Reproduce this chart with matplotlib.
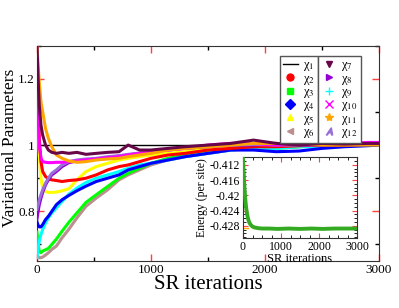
import matplotlib
matplotlib.use("Agg")
import matplotlib.pyplot as plt
from matplotlib.lines import Line2D
from matplotlib.ticker import MultipleLocator

plt.rcParams['font.family'] = ['Liberation Serif', 'DejaVu Serif']
plt.rcParams['mathtext.fontset'] = 'stix'

# ---------------- data ----------------
iters = [0, 10, 20, 35, 50, 75, 100, 130, 170, 220, 280, 350, 430, 520, 620,
         720, 800, 900, 1000, 1150, 1300, 1500, 1700, 1900, 2100, 2300, 2500,
         2700, 2900, 3000]

chi1 = [1.0] * len(iters)
chi2 = [1.25, 1.12, 1.02, 0.95, 0.92, 0.905, 0.898, 0.895, 0.893, 0.89, 0.893,
        0.895, 0.90, 0.91, 0.925, 0.935, 0.94, 0.95, 0.96, 0.97, 0.975, 0.985,
        0.99, 0.995, 0.995, 0.998, 1.0, 1.0, 1.002, 1.003]
chi3 = [0.737, 0.70, 0.68, 0.675, 0.68, 0.684, 0.688, 0.70, 0.716, 0.74, 0.767,
        0.795, 0.827, 0.85, 0.875, 0.90, 0.915, 0.93, 0.945, 0.96, 0.97, 0.98,
        0.99, 0.995, 0.99, 0.995, 1.0, 1.0, 1.0, 1.002]
chi4 = [0.768, 0.758, 0.753, 0.753, 0.76, 0.775, 0.785, 0.80, 0.82, 0.835, 0.848,
        0.862, 0.876, 0.89, 0.90, 0.91, 0.925, 0.935, 0.945, 0.955, 0.965, 0.975,
        0.985, 0.985, 0.98, 0.982, 0.99, 0.995, 0.998, 1.0]
chi5 = [1.3, 1.1, 0.97, 0.9, 0.87, 0.86, 0.857, 0.857, 0.858, 0.862, 0.868,
        0.895, 0.92, 0.935, 0.945, 0.955, 0.96, 0.965, 0.97, 0.975, 0.98, 0.99,
        0.995, 1.0, 1.0, 0.998, 1.002, 1.005, 1.003, 1.003]
chi6 = [0.665, 0.66, 0.66, 0.66, 0.662, 0.668, 0.675, 0.685, 0.695, 0.72, 0.746,
        0.78, 0.815, 0.84, 0.865, 0.895, 0.91, 0.925, 0.94, 0.955, 0.965, 0.975,
        0.985, 0.99, 0.992, 0.995, 0.998, 1.0, 1.0, 1.0]
chi7 = [1.3, 1.2, 1.12, 1.06, 1.03, 1.0, 0.985, 0.978, 0.975, 0.978, 0.975,
        0.978, 0.972, 0.975, 0.978, 0.98, 1.0, 0.985, 0.985, 0.99, 0.995, 1.0,
        1.005, 1.015, 1.005, 1.0, 1.005, 1.003, 1.005, 1.005]
chi8 = [0.777, 0.80, 0.82, 0.84, 0.857, 0.88, 0.895, 0.91, 0.92, 0.935, 0.947,
        0.952, 0.955, 0.958, 0.962, 0.967, 0.97, 0.975, 0.98, 0.985, 0.99, 0.995,
        1.0, 1.0, 1.005, 1.0, 1.0, 1.002, 1.003, 1.003]
chi9 = [0.66, 0.69, 0.71, 0.73, 0.745, 0.765, 0.78, 0.795, 0.81, 0.83, 0.852,
        0.87, 0.887, 0.90, 0.91, 0.92, 0.93, 0.94, 0.945, 0.955, 0.965, 0.975,
        0.985, 0.99, 0.99, 0.995, 0.995, 0.998, 1.0, 1.0]
chi10 = [1.3, 1.1, 1.0, 0.96, 0.95, 0.948, 0.947, 0.947, 0.948, 0.948, 0.95,
         0.952, 0.955, 0.958, 0.962, 0.965, 0.97, 0.975, 0.98, 0.985, 0.99, 1.0,
         1.005, 1.005, 1.0, 1.003, 1.005, 1.005, 1.008, 1.008]
chi11 = [1.3, 1.24, 1.19, 1.13, 1.10, 1.05, 1.02, 0.995, 0.97, 0.96, 0.952,
         0.948, 0.95, 0.955, 0.958, 0.96, 0.965, 0.97, 0.975, 0.985, 0.99, 0.995,
         1.0, 1.005, 1.005, 1.003, 1.0, 1.0, 1.0, 1.0]
chi12 = [0.806, 0.82, 0.835, 0.85, 0.865, 0.885, 0.9, 0.915, 0.925, 0.94, 0.95,
         0.955, 0.958, 0.96, 0.965, 0.968, 0.972, 0.976, 0.982, 0.987, 0.992,
         0.996, 1.0, 1.002, 1.0, 1.0, 1.002, 1.003, 1.003, 1.003]

series = [chi1, chi2, chi3, chi4, chi5, chi6, chi7, chi8, chi9, chi10, chi11, chi12]
labels = ['χ$_{%d}$' % i for i in range(1, 13)]
colors = ['black', '#ff0000', '#00ff00', '#0000ff', '#ffff00', '#bc8f8f',
          '#67074a', '#9400d3', '#00ffff', '#ff00ff', '#ffa500', '#9a6fd8']
markers = [None, 'o', 's', 'D', '^', '<', 'v', '>', '+', 'x', '*', r'$\mathsf{A}$']

e_iters = [0, 15, 30, 45, 60, 80, 100, 130, 160, 200, 250, 300, 400, 500, 700,
           900, 1200, 1500, 1800, 2100, 2400, 2700, 3000]
energy = [-0.4105, -0.4135, -0.4165, -0.419, -0.421, -0.423, -0.4245, -0.426,
          -0.427, -0.4277, -0.4282, -0.4284, -0.4286, -0.4287, -0.4287, -0.4288,
          -0.4287, -0.4288, -0.4287, -0.4288, -0.4287, -0.4287, -0.4287]
e_ref = -0.4286

# ---------------- figure ----------------
fig = plt.figure(figsize=(3.99, 3.08), dpi=100)
ax = fig.add_axes([0.0927, 0.1526, 0.857, 0.699])

draw_order = [0, 5, 2, 8, 3, 4, 1, 7, 11, 9, 10, 6]
for i in draw_order:
    ax.plot(iters, series[i], color=colors[i],
            lw=1.0 if i == 0 else 2.2, zorder=3 if i else 2)

ax.set_xlim(0, 3000)
ax.set_ylim(0.65, 1.3)
ax.xaxis.set_major_locator(MultipleLocator(1000))
ax.xaxis.set_minor_locator(MultipleLocator(500))
ax.yaxis.set_minor_locator(MultipleLocator(0.1))
ax.set_yticks([0.8, 1.0, 1.2])
ax.set_yticklabels(['0.8', '1', '1.2'])
ax.tick_params(which='both', direction='in', top=True, right=True, labelsize=9.5, pad=2.5)
ax.tick_params(axis='y', pad=1.5)
ax.tick_params(which='major', length=5, color='#ff4040', width=1)
ax.tick_params(which='minor', length=3, color='black', width=1)
ax.set_xlabel('SR iterations', fontsize=15, labelpad=-1)
ax.set_ylabel('Variational Parameters', fontsize=12.5)
ax.yaxis.set_label_coords(-0.0555, 0.527)
for s in ax.spines.values():
    s.set_color('#333333')

# legends
def handle(i):
    if markers[i] is None:
        return Line2D([], [], color=colors[i], lw=1.0)
    return Line2D([], [], color=colors[i], marker=markers[i], ls='none',
                  markersize=5 if markers[i] not in ('+', 'x', '*') else 6,
                  markeredgewidth=1)

leg_kw = dict(fontsize=9, frameon=True, fancybox=False, framealpha=1,
              edgecolor='#555555', borderpad=0.25, labelspacing=-0.05,
              handlelength=1.2, handletextpad=0.4, borderaxespad=0)
leg1 = ax.legend([handle(i) for i in range(6)], labels[:6],
                 loc='upper right', bbox_to_anchor=(0.822, 0.952), **leg_kw)
ax.add_artist(leg1)
leg2 = ax.legend([handle(i) for i in range(6, 12)], labels[6:],
                 loc='upper left', bbox_to_anchor=(0.822, 0.952), **leg_kw)
for lg in (leg1, leg2):
    lg.get_frame().set_linewidth(1.0)
    lg.set_zorder(10)

# inset
ins = fig.add_axes([0.609, 0.227, 0.286, 0.263])
ins.plot(e_iters, energy, color='#33aa22', lw=2.8, zorder=3)
ins.axhline(e_ref, color='#ffa500', lw=1, ls=(0, (4, 3)), zorder=2)
ins.set_xlim(0, 3000)
ins.set_ylim(-0.4312, -0.4100)
ins.xaxis.set_major_locator(MultipleLocator(1000))
ins.xaxis.set_minor_locator(MultipleLocator(250))
ins.set_yticks([-0.412, -0.416, -0.42, -0.424, -0.428])
ins.set_yticklabels(['-0.412', '-0.416', '-0.42', '-0.424', '-0.428'])
ins.yaxis.set_minor_locator(MultipleLocator(0.001))
ins.tick_params(which='both', direction='in', top=True, right=True, labelsize=8.5, pad=2)
ins.tick_params(which='major', length=3.5, color='#ff4040')
ins.tick_params(which='minor', length=2, color='black')
ins.set_xlabel('SR iterations', fontsize=9, labelpad=0)
ins.set_ylabel('Energy (per site)', fontsize=8.5, labelpad=1)
for s in ins.spines.values():
    s.set_color('#333333')

fig.savefig('out.png', dpi=100)
